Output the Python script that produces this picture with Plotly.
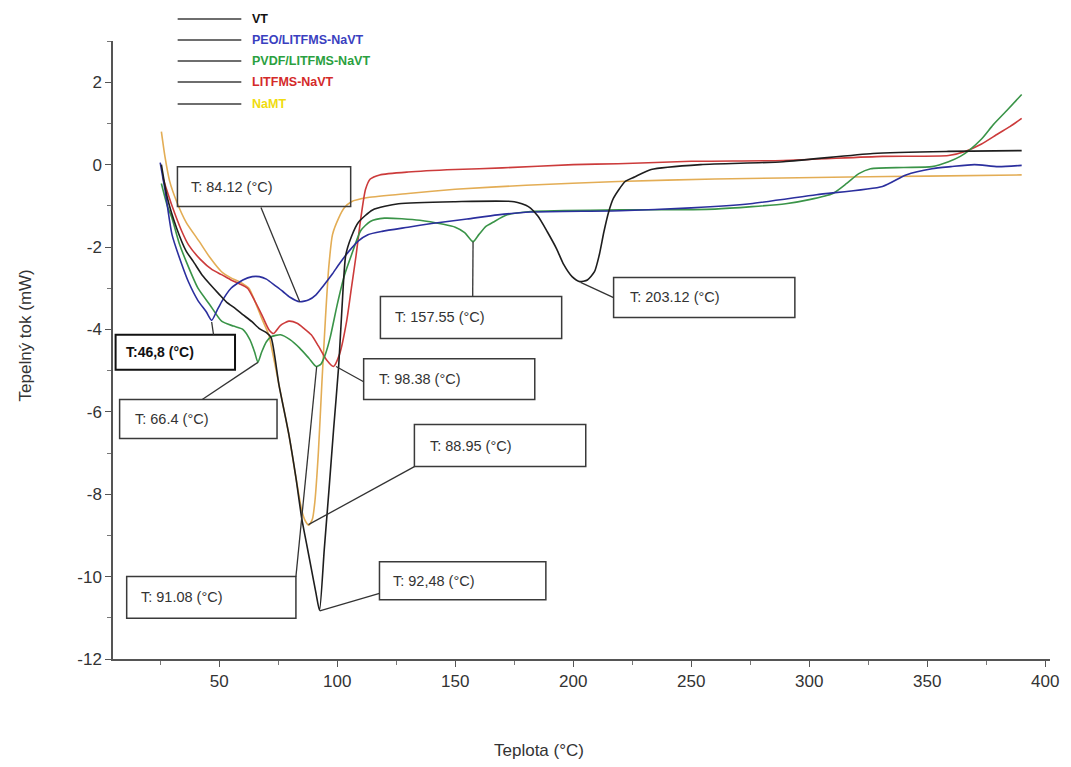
import plotly.graph_objects as go

# ---------------- data ----------------
vt_T = [25.5, 28, 32, 36, 39, 43, 46, 50, 53, 57, 60, 64, 67, 70, 72, 75.3, 79.5, 82.5, 85, 87, 89, 91,
        92.5, 94.5, 96.5, 98.5, 100.6, 102, 103.6, 106, 109, 115, 126, 150, 175, 181, 185, 189, 193, 196,
        199.5, 202.7, 206, 209, 211, 213, 215, 217, 222, 226, 233, 254, 289, 327, 359, 390]
vt_V = [0.0, -0.8, -1.55, -2.1, -2.35, -2.7, -2.9, -3.15, -3.33, -3.5, -3.64, -3.82, -3.98, -4.08, -4.2,
        -5.34, -6.55, -7.6, -8.6, -9.2, -9.8, -10.4, -10.82, -9.35, -7.9, -6.4, -4.9, -3.5, -2.2, -1.75,
        -1.4, -1.1, -0.95, -0.9, -0.9, -1.02, -1.25, -1.63, -2.05, -2.43, -2.72, -2.84, -2.8, -2.6, -2.2,
        -1.63, -1.15, -0.82, -0.41, -0.3, -0.12, 0.0, 0.07, 0.27, 0.32, 0.34]

peo_T = [25, 27, 30, 34, 37, 41, 44.5, 46.8, 49, 51, 55, 60, 64, 67, 70, 74, 77, 80, 84.12, 88, 91, 94,
         98, 101, 105, 109, 113, 119, 130, 140, 155, 168, 182, 220, 250, 275, 303, 331, 341, 352, 360,
         370, 380, 390]
peo_V = [0.05, -0.6, -1.7, -2.4, -2.85, -3.3, -3.57, -3.78, -3.55, -3.33, -3.0, -2.8, -2.72, -2.72, -2.78,
         -2.95, -3.08, -3.22, -3.33, -3.28, -3.16, -2.95, -2.65, -2.4, -2.1, -1.85, -1.7, -1.62, -1.52,
         -1.43, -1.32, -1.22, -1.15, -1.12, -1.05, -0.95, -0.73, -0.53, -0.25, -0.1, -0.05, 0.0, -0.05, -0.02]

pvdf_T = [25.5, 28, 30, 33, 36, 41, 46, 51, 56, 60, 63, 65, 66.4, 68, 70, 72, 76, 80, 84, 88, 91.08, 93,
          95, 97, 100, 103, 106, 110, 114, 120, 135, 145, 150, 154, 157.55, 160, 163, 166, 172, 182, 220,
          260, 290, 300, 310, 316, 321, 326, 340, 352, 359, 364, 368, 373, 378, 384, 390]
pvdf_V = [-0.46, -1.0, -1.3, -1.9, -2.35, -3.0, -3.4, -3.8, -3.92, -4.0, -4.25, -4.55, -4.8, -4.55, -4.3,
          -4.18, -4.13, -4.25, -4.45, -4.7, -4.9, -4.85, -4.6, -4.2, -3.4, -2.7, -2.2, -1.6, -1.38, -1.3,
          -1.35, -1.45, -1.52, -1.65, -1.87, -1.7, -1.5, -1.4, -1.22, -1.14, -1.1, -1.08, -0.95, -0.85,
          -0.7, -0.45, -0.22, -0.1, -0.07, -0.05, 0.07, 0.2, 0.36, 0.62, 0.97, 1.33, 1.7]

lit_T = [26, 30, 34, 37, 42, 47, 51, 55, 58.5, 62, 65, 68, 71, 73, 76, 79.5, 83, 86, 89, 92, 95.6, 98.4,
         101, 104, 106, 108, 110, 112, 114, 118, 130, 150, 170, 200, 219, 250, 289, 331, 359, 366, 373,
         380, 385, 390]
lit_V = [-0.3, -1.0, -1.6, -1.95, -2.3, -2.55, -2.67, -2.8, -2.89, -3.0, -3.3, -3.64, -4.0, -4.1, -3.9,
         -3.8, -3.85, -3.98, -4.13, -4.4, -4.75, -4.9, -4.6, -3.8, -3.0, -2.2, -1.3, -0.6, -0.35, -0.25,
         -0.18, -0.12, -0.08, 0.0, 0.02, 0.08, 0.1, 0.2, 0.22, 0.32, 0.5, 0.75, 0.92, 1.12]

namt_T = [25.5, 27, 29, 32, 36, 41.6, 46, 51, 55, 58.5, 62.6, 65, 68, 71, 72.4, 75.3, 79.5, 82.5, 85, 86.5,
          88, 89.5, 90.5, 92, 93.5, 95, 96.4, 98, 100.6, 103, 106, 113, 130, 150, 180, 219, 260, 317, 350, 390]
namt_V = [0.8, 0.2, -0.4, -0.9, -1.4, -1.87, -2.25, -2.6, -2.75, -2.84, -3.0, -3.3, -3.73, -4.13, -4.5,
          -5.34, -6.55, -7.6, -8.4, -8.65, -8.75, -8.6, -8.2, -7.0, -5.3, -3.74, -2.5, -1.7, -1.3, -1.05,
          -0.9, -0.8, -0.7, -0.6, -0.5, -0.41, -0.35, -0.3, -0.28, -0.25]

series_names = ["VT", "PEO/LITFMS-NaVT", "PVDF/LITFMS-NaVT", "LITFMS-NaVT", "NaMT"]
line_colors = ["#1e1e1e", "#2b2f9e", "#3a9448", "#cc3b3b", "#e3ad55"]
legend_text_colors = ["#111111", "#3a3fc0", "#2aa040", "#d42a2a", "#f0dc10"]

x_ticks = [50, 100, 150, 200, 250, 300, 350, 400]
y_ticks = [-12, -10, -8, -6, -4, -2, 0, 2]

# annotation labels: text, box (x0, x1, y0, y1), text x, leader line (x_from, y_from, x_to, y_to)
labels = [
    ("T: 84.12 (°C)", (32.3, 105.7, -0.05, -1.02), 37.3, (67.7, -1.04, 84.12, -3.33)),
    ("T:46,8 (°C)", (6.1, 56.7, -4.13, -4.98), 9.5, (47.6, -4.13, 46.8, -3.82)),
    ("T: 66.4 (°C)", (7.8, 74.5, -5.70, -6.65), 13.3, (42.8, -5.70, 66.4, -4.8)),
    ("T: 98.38 (°C)", (111.2, 183.7, -4.71, -5.70), 116.7, (111.2, -5.27, 99.5, -4.9)),
    ("T: 88.95 (°C)", (132.7, 205.3, -6.31, -7.33), 138.6, (132.7, -7.33, 87.8, -8.74)),
    ("T: 91.08 (°C)", (10.8, 82.5, -10.0, -11.01), 16.2, (82.5, -10.0, 91.3, -4.9)),
    ("T: 92,48 (°C)", (117.9, 188.4, -9.64, -10.56), 122.6, (117.9, -10.41, 92.6, -10.83)),
    ("T: 157.55 (°C)", (118.3, 195.1, -3.20, -4.22), 123.8, (157.4, -3.20, 157.55, -1.87)),
    ("T: 203.12 (°C)", (217.1, 293.9, -2.74, -3.71), 223.0, (217.1, -3.23, 203.12, -2.86)),
]

FONT = "Liberation Sans, Arial, sans-serif"

fig = go.Figure()
order = [4, 3, 2, 1, 0]
data = [(vt_T, vt_V), (peo_T, peo_V), (pvdf_T, pvdf_V), (lit_T, lit_V), (namt_T, namt_V)]
for i in order:
    xs, ys = data[i]
    fig.add_trace(go.Scatter(
        x=xs, y=ys, mode="lines", name=series_names[i], showlegend=False,
        line=dict(color=line_colors[i], width=1.6, shape="spline", smoothing=0.6),
    ))

shapes = []
annotations = []
for k, (txt, box, tx, ln) in enumerate(labels):
    bold = txt.startswith("T:46")
    shapes.append(dict(type="rect", xref="x", yref="y", x0=box[0], x1=box[1], y0=box[2], y1=box[3],
                       line=dict(color="#111" if bold else "#3a3a3a", width=2 if bold else 1.5),
                       fillcolor="rgba(255,255,255,0)", layer="above"))
    shapes.append(dict(type="line", xref="x", yref="y", x0=ln[0], y0=ln[1], x1=ln[2], y1=ln[3],
                       line=dict(color="#333", width=1.3), layer="above"))
    annotations.append(dict(x=tx, y=(box[2] + box[3]) / 2, xref="x", yref="y", text=txt,
                            showarrow=False, xanchor="left", yanchor="middle",
                            font=dict(family=FONT, size=14 if bold else 14.5,
                                      color="#111" if bold else "#333",
                                      weight="bold" if bold else "normal")))

# manual legend (grey sample lines, coloured labels), in pixel-derived paper coords
plot_l, plot_r, plot_t, plot_b = 113, 1055, 41, 659
def px_x(px):
    return (px - plot_l) / (plot_r - plot_l)
def px_y(py):
    return (plot_b - py) / (plot_b - plot_t)

legend_rows = [19, 40, 61, 82, 104]
for i, name in enumerate(series_names):
    py = legend_rows[i]
    shapes.append(dict(type="line", xref="paper", yref="paper", x0=px_x(178), x1=px_x(242),
                       y0=px_y(py), y1=px_y(py), line=dict(color="#6e6e6e", width=2)))
    annotations.append(dict(x=px_x(251), y=px_y(py), xref="paper", yref="paper", text=name,
                            showarrow=False, xanchor="left", yanchor="middle",
                            font=dict(family=FONT, size=12.5, color=legend_text_colors[i], weight="bold")))

annotations.append(dict(x=px_x(541), y=px_y(750), xref="paper", yref="paper", text="Teplota (°C)",
                        showarrow=False, xanchor="center", yanchor="middle",
                        font=dict(family=FONT, size=17, color="#333")))
annotations.append(dict(x=px_x(25), y=px_y(335), xref="paper", yref="paper", text="Tepelný tok (mW)",
                        showarrow=False, xanchor="center", yanchor="middle", textangle=-90,
                        font=dict(family=FONT, size=17, color="#333")))

fig.update_layout(
    width=1071, height=767,
    margin=dict(l=plot_l, r=1071 - plot_r, t=plot_t, b=767 - plot_b),
    paper_bgcolor="white", plot_bgcolor="white",
    showlegend=False,
    shapes=shapes, annotations=annotations,
    font=dict(family=FONT, color="#333"),
)
fig.update_xaxes(range=[5, 402], tickmode="array", tickvals=x_ticks, ticktext=[str(v) for v in x_ticks],
                 showline=True, linecolor="#555", linewidth=1.5, ticks="outside", ticklen=6,
                 tickcolor="#555", showgrid=False, zeroline=False,
                 tickfont=dict(family=FONT, size=17, color="#333"),
                 minor=dict(tickvals=[25, 75, 125, 175, 225, 275, 325, 375], ticks="outside", ticklen=4,
                            tickcolor="#777", showgrid=False))
fig.update_yaxes(range=[-12, 3], tickmode="array", tickvals=y_ticks, ticktext=[str(v) for v in y_ticks],
                 showline=True, linecolor="#555", linewidth=1.5, ticks="outside", ticklen=6,
                 tickcolor="#555", showgrid=False, zeroline=False,
                 tickfont=dict(family=FONT, size=17, color="#333"),
                 minor=dict(tickvals=[-11, -9, -7, -5, -3, -1, 1, 3], ticks="outside", ticklen=4,
                            tickcolor="#777", showgrid=False))

fig.write_html("out.html")
